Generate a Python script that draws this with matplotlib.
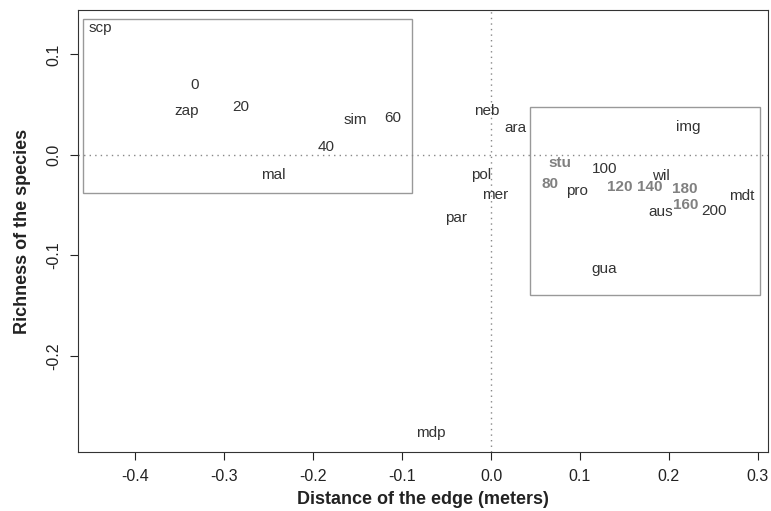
import matplotlib
matplotlib.use("Agg")
import matplotlib.pyplot as plt
from matplotlib.patches import Rectangle

plt.rcParams['font.family'] = ['Liberation Sans', 'DejaVu Sans']
plt.rcParams['axes.unicode_minus'] = False

# labels and their positions (distance, richness)
labels = ['scp', '0', 'zap', '20', 'sim', '60', '40', 'mal',
          'neb', 'ara', 'img', 'stu', '100', 'pol', 'wil', '80', 'pro',
          '120', '140', '180', 'mdt', 'mer', '160', 'aus', '200', 'par',
          'gua', 'mdp']
xs = [-0.440, -0.333, -0.343, -0.281, -0.153, -0.111, -0.186, -0.245,
      -0.005, 0.027, 0.222, 0.078, 0.128, -0.011, 0.191, 0.066, 0.097,
      0.145, 0.178, 0.218, 0.282, 0.005, 0.219, 0.191, 0.251, -0.039,
      0.127, -0.068]
ys = [0.126, 0.070, 0.044, 0.048, 0.035, 0.037, 0.008, -0.020,
      0.044, 0.027, 0.028, -0.008, -0.014, -0.020, -0.021, -0.029, -0.036,
      -0.032, -0.032, -0.034, -0.041, -0.040, -0.050, -0.057, -0.056, -0.063,
      -0.113, -0.277]
highlight = ['stu', '80', '120', '140', '160', '180']

# group boxes: (x0, y0, x1, y1)
boxes = [(-0.459, -0.038, -0.089, 0.135),
         (0.044, -0.139, 0.303, 0.048)]

xticks = [-0.4, -0.3, -0.2, -0.1, 0.0, 0.1, 0.2, 0.3]
yticks = [-0.2, -0.1, 0.0, 0.1]

fig = plt.figure(figsize=(7.71, 5.11), dpi=100)
ax = fig.add_axes([0.1012, 0.1155, 0.895, 0.865])

ax.axhline(0, color='#888888', linestyle=(0, (1, 3)), lw=1)
ax.axvline(0, color='#888888', linestyle=(0, (1, 3)), lw=1)

for x0, y0, x1, y1 in boxes:
    ax.add_patch(Rectangle((x0, y0), x1 - x0, y1 - y0, fill=False,
                           edgecolor='#999999', lw=1))

for lab, x, y in zip(labels, xs, ys):
    if lab in highlight:
        ax.text(x, y, lab, ha='center', va='center', fontsize=11,
                color='#808080', fontweight='bold')
    else:
        ax.text(x, y, lab, ha='center', va='center', fontsize=11,
                color='#333333')

ax.set_xlim(-0.4646, 0.3116)
ax.set_ylim(-0.2955, 0.1443)
ax.set_xticks(xticks)
ax.set_xticklabels(['%.1f' % v for v in xticks])
ax.set_yticks(yticks)
ax.set_yticklabels(['%.1f' % v for v in yticks], rotation=90, va='center')
ax.tick_params(direction='out', length=6, labelsize=11.5, colors='#222222', pad=6)

for s in ax.spines.values():
    s.set_color('#333333')

ax.set_xlabel('Distance of the edge (meters)', fontsize=13, fontweight='bold',
              color='#222222', labelpad=5)
ax.set_ylabel('Richness of the species', fontsize=13, fontweight='bold',
              color='#222222', labelpad=11)

fig.savefig('out.png', dpi=100)
